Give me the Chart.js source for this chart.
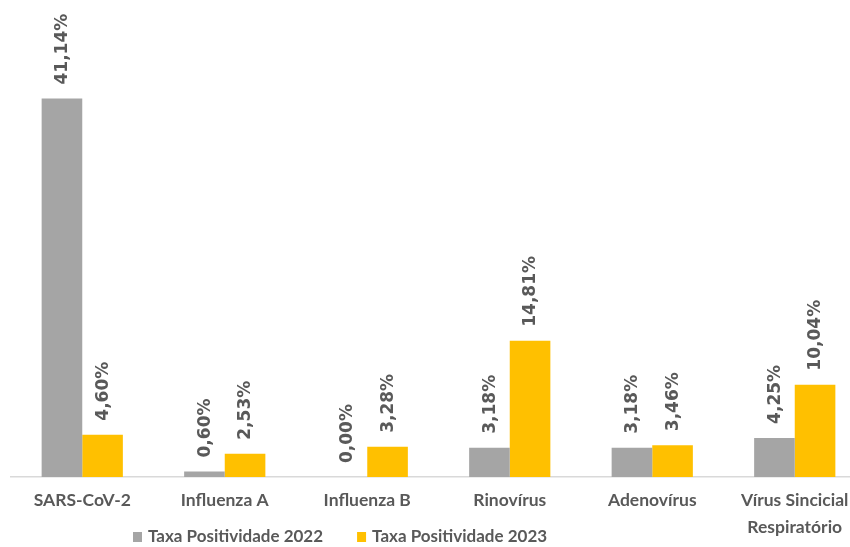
<!DOCTYPE html>
<html>
<head>
<meta charset="utf-8">
<script src="https://cdn.jsdelivr.net/npm/chart.js@4/dist/chart.umd.min.js"></script>
<style>
  html, body { margin: 0; padding: 0; background: #fff; overflow: hidden; }
  #wrap { position: relative; width: 866px; height: 547px; }
</style>
</head>
<body>
<div id="wrap"><canvas id="chart"></canvas></div>
<script>
// Data
const categories = ['SARS-CoV-2', 'Influenza A', 'Influenza B', 'Rinovírus', 'Adenovírus', ['Vírus Sincicial', 'Respiratório']];
const taxa2022 = [41.14, 0.60, 0.00, 3.18, 3.18, 4.25];
const taxa2023 = [4.60, 2.53, 3.28, 14.81, 3.46, 10.04];
const seriesNames = ['Taxa Positividade 2022', 'Taxa Positividade 2023'];
const seriesColors = ['#a5a5a5', '#ffc000'];

const textColor = '#595959';

function fmt(v) {
    return v.toFixed(2).replace('.', ',') + '%';
}

// Vertical value labels above each bar
const valueLabels = {
    id: 'valueLabels',
    afterDatasetsDraw(chart) {
        const ctx = chart.ctx;
        ctx.save();
        ctx.font = 'bold 17px "DejaVu Sans"';
        ctx.fillStyle = textColor;
        ctx.textAlign = 'left';
        ctx.textBaseline = 'middle';
        chart.data.datasets.forEach((ds, i) => {
            const meta = chart.getDatasetMeta(i);
            meta.data.forEach((bar, j) => {
                ctx.save();
                ctx.translate(bar.x, bar.y - 14);
                ctx.rotate(-Math.PI / 2);
                ctx.fillText(fmt(ds.data[j]), 0, 1);
                ctx.restore();
            });
        });
        ctx.restore();
    }
};

// Legend drawn below the axis labels, left of centre like the original
const bottomLegend = {
    id: 'bottomLegend',
    afterDraw(chart) {
        const ctx = chart.ctx;
        ctx.save();
        ctx.font = 'bold 17px Lato';
        ctx.textBaseline = 'middle';
        ctx.textAlign = 'left';
        let x = 133;
        const y = 537;
        chart.data.datasets.forEach((ds) => {
            ctx.fillStyle = ds.backgroundColor;
            ctx.fillRect(x, y - 5, 9, 10);
            ctx.fillStyle = textColor;
            ctx.fillText(ds.label, x + 15, y);
            x += 15 + ctx.measureText(ds.label).width + 34;
        });
        ctx.restore();
    }
};

const ctx = document.getElementById('chart').getContext('2d');
new Chart(ctx, {
    type: 'bar',
    data: {
        labels: categories,
        datasets: [
            { label: seriesNames[0], data: taxa2022, backgroundColor: seriesColors[0] },
            { label: seriesNames[1], data: taxa2023, backgroundColor: seriesColors[1] }
        ]
    },
    options: {
        responsive: true,
        maintainAspectRatio: false,
        animation: false,
        layout: { padding: { top: 17, left: 11, right: 0, bottom: 0 } },
        plugins: {
            legend: { display: false },
            tooltip: { enabled: false }
        },
        datasets: {
            bar: { categoryPercentage: 0.57, barPercentage: 1.0 }
        },
        scales: {
            x: {
                grid: { display: false, drawTicks: false },
                border: { display: true, color: '#d9d9d9', width: 1.5 },
                ticks: {
                    color: textColor,
                    font: { family: 'Lato', size: 17.5, weight: 'bold', lineHeight: 1.55 },
                    padding: 10,
                    maxRotation: 0,
                    autoSkip: false
                },
                afterFit(scale) { scale.height = 70; }
            },
            y: {
                display: false,
                min: 0,
                max: 50
            }
        }
    },
    plugins: [valueLabels, bottomLegend]
});
</script>
</body>
</html>
